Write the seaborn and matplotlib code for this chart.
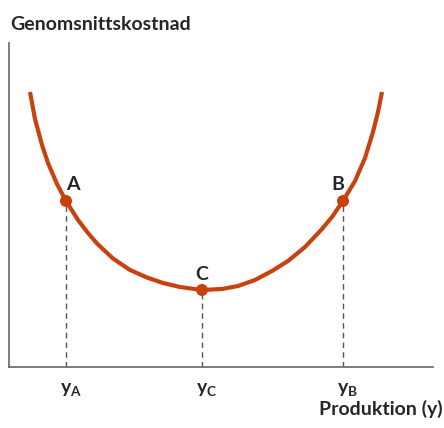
import pandas as pd
import matplotlib.pyplot as plt
import seaborn as sns

# curve (x = output, y = average cost)
curve_x = [21, 26, 33, 39, 48, 57, 69, 79, 88, 104, 121, 138, 154, 171, 193,
           213, 229, 246, 263, 279, 296, 313, 323, 334, 346, 356, 364, 369, 373]
curve_y = [275, 248, 222, 204, 183, 166, 147, 134, 123.5, 108.5, 97, 89.5, 84, 80, 77,
           78, 81, 87, 96, 106, 120, 138, 150, 166, 186, 209, 235, 255, 275]

points = ['A', 'C', 'B']
point_x = [57, 193, 334]
point_y = [166, 77, 166]
tick_labels = [r'$\mathbf{y}_{\mathbf{A}}$', r'$\mathbf{y}_{\mathbf{C}}$', r'$\mathbf{y}_{\mathbf{B}}$']

ylabel = 'Genomsnittskostnad'
xlabel = 'Produktion (y)'

line_color = '#C9410F'

sns.set_style('white')
plt.rcParams['font.family'] = ['Lato', 'DejaVu Sans']
plt.rcParams['mathtext.fontset'] = 'custom'
plt.rcParams['mathtext.rm'] = 'Lato:bold'
plt.rcParams['mathtext.it'] = 'Lato:bold'
plt.rcParams['mathtext.bf'] = 'Lato:bold'

fig = plt.figure(figsize=(4.44, 4.28), dpi=100)
ax = fig.add_axes([9 / 444, 61 / 428, 424 / 444, 324 / 428])

df = pd.DataFrame({'x': curve_x, 'y': curve_y})
sns.lineplot(data=df, x='x', y='y', ax=ax, color=line_color, linewidth=3, sort=False,
             solid_capstyle='butt', solid_joinstyle='round')

# dashed guides down to the axis
for px, py in zip(point_x, point_y):
    ax.plot([px, px], [0, py], color='#555555', linewidth=1, linestyle=(0, (4, 3)), zorder=1)

pts = pd.DataFrame({'x': point_x, 'y': point_y, 'name': points})
sns.scatterplot(data=pts, x='x', y='y', ax=ax, color=line_color, s=75, edgecolor='none', zorder=5)

label_offset = {'A': (7, 16), 'C': (0, 16), 'B': (-5, 16)}
for name, px, py in zip(points, point_x, point_y):
    dx, dy = label_offset[name]
    ax.text(px + dx, py + dy, name, ha='center', va='center', fontsize=14, fontweight='bold')

# x labels y_A, y_C, y_B under the guides
for px, lab in zip(point_x, tick_labels):
    ax.annotate(lab, xy=(px, 0), xycoords=('data', 'axes fraction'), xytext=(3.5, -19),
                textcoords='offset points', ha='center', va='baseline', fontsize=14)

ax.set_xlim(0, 424)
ax.set_ylim(0, 324)
ax.set_xticks([])
ax.set_yticks([])
ax.set_xlabel('')
ax.set_ylabel('')
sns.despine(ax=ax)
for side in ['left', 'bottom']:
    ax.spines[side].set_color('#666666')
    ax.spines[side].set_linewidth(1.2)

fig.text(10 / 444, 1 - 30 / 428, ylabel, ha='left', va='baseline', fontsize=14, fontweight='bold')
fig.text(443 / 444, 1 - 415 / 428, xlabel, ha='right', va='baseline', fontsize=14, fontweight='bold')

fig.savefig('out.png', dpi=100)
